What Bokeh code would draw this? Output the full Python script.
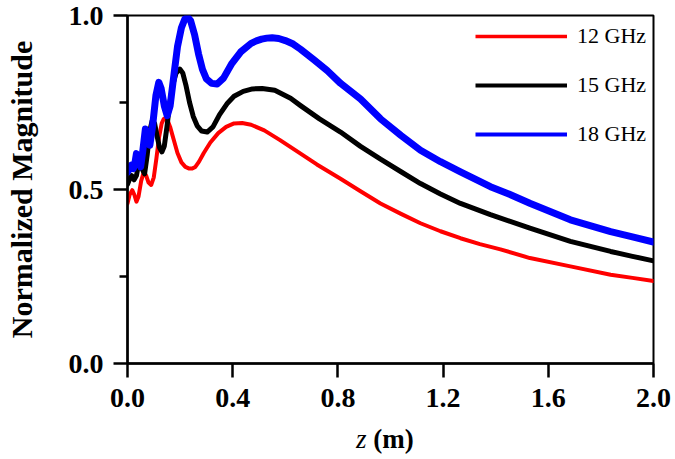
from bokeh.plotting import figure
from bokeh.models import (Range1d, FixedTicker, PrintfTickFormatter, Legend,
                          LegendItem, ColumnDataSource, Div)
from bokeh.layouts import column
from bokeh.embed import file_html
from bokeh.resources import INLINE

series_names = ["12 GHz", "15 GHz", "18 GHz"]

z_12 = [0.000, 0.008, 0.018, 0.026, 0.034, 0.042, 0.052, 0.062, 0.071, 0.080,
        0.090, 0.100, 0.110, 0.120, 0.130, 0.138, 0.145, 0.152, 0.162, 0.175,
        0.190, 0.205, 0.220, 0.235, 0.246, 0.258, 0.272, 0.290, 0.315, 0.345,
        0.375, 0.405, 0.436, 0.470, 0.520, 0.580, 0.658, 0.720, 0.810, 0.886,
        0.962, 1.040, 1.114, 1.190, 1.266, 1.340, 1.418, 1.530, 1.684, 1.837,
        1.920, 2.000]
mag_12 = [0.460, 0.485, 0.498, 0.485, 0.465, 0.480, 0.525, 0.550, 0.540, 0.520,
          0.513, 0.535, 0.590, 0.650, 0.690, 0.703, 0.705, 0.700, 0.680, 0.645,
          0.605, 0.578, 0.565, 0.560, 0.560, 0.565, 0.580, 0.605, 0.635, 0.662,
          0.680, 0.690, 0.691, 0.686, 0.670, 0.642, 0.603, 0.572, 0.531, 0.495,
          0.460, 0.430, 0.403, 0.380, 0.360, 0.343, 0.328, 0.303, 0.279, 0.255,
          0.246, 0.237]

z_15 = [0.000, 0.008, 0.016, 0.025, 0.034, 0.045, 0.055, 0.065, 0.075, 0.085,
        0.094, 0.103, 0.112, 0.122, 0.131, 0.140, 0.150, 0.160, 0.172, 0.185,
        0.199, 0.210, 0.222, 0.236, 0.250, 0.265, 0.282, 0.303, 0.325, 0.350,
        0.380, 0.405, 0.440, 0.475, 0.512, 0.560, 0.620, 0.658, 0.730, 0.810,
        0.886, 0.962, 1.040, 1.114, 1.190, 1.266, 1.380, 1.530, 1.684, 1.837,
        1.920, 2.000]
mag_15 = [0.515, 0.530, 0.540, 0.528, 0.540, 0.585, 0.560, 0.545, 0.600, 0.670,
          0.698, 0.690, 0.655, 0.620, 0.608, 0.625, 0.680, 0.745, 0.800, 0.835,
          0.846, 0.835, 0.800, 0.750, 0.710, 0.683, 0.668, 0.665, 0.680, 0.715,
          0.748, 0.768, 0.782, 0.789, 0.790, 0.785, 0.762, 0.741, 0.703, 0.665,
          0.624, 0.587, 0.551, 0.517, 0.487, 0.460, 0.428, 0.389, 0.351, 0.322,
          0.308, 0.295]

z_18 = [0.000, 0.008, 0.015, 0.022, 0.028, 0.034, 0.042, 0.050, 0.058, 0.068,
        0.076, 0.085, 0.095, 0.108, 0.119, 0.128, 0.140, 0.151, 0.162, 0.175,
        0.190, 0.205, 0.218, 0.229, 0.240, 0.255, 0.270, 0.285, 0.300, 0.320,
        0.341, 0.365, 0.395, 0.430, 0.470, 0.490, 0.510, 0.530, 0.550, 0.575,
        0.600, 0.630, 0.658, 0.710, 0.759, 0.810, 0.886, 0.962, 1.040, 1.114,
        1.190, 1.266, 1.380, 1.450, 1.532, 1.684, 1.837, 1.920, 2.000]
mag_18 = [0.550, 0.560, 0.570, 0.560, 0.575, 0.603, 0.590, 0.565, 0.610, 0.674,
          0.655, 0.627, 0.680, 0.770, 0.808, 0.790, 0.740, 0.712, 0.740, 0.820,
          0.910, 0.965, 0.990, 0.995, 0.985, 0.945, 0.890, 0.845, 0.818, 0.805,
          0.803, 0.820, 0.860, 0.895, 0.920, 0.927, 0.932, 0.935, 0.936, 0.934,
          0.928, 0.918, 0.903, 0.872, 0.842, 0.805, 0.760, 0.703, 0.655, 0.613,
          0.580, 0.551, 0.508, 0.487, 0.460, 0.413, 0.379, 0.364, 0.349]

x_ticks = [0.0, 0.4, 0.8, 1.2, 1.6, 2.0]
y_ticks = [0.0, 0.5, 1.0]
y_minor_ticks = [0.25, 0.75]

FONT = "Liberation Serif"

p = figure(width=673, height=426, output_backend="svg", toolbar_location=None,
           x_range=Range1d(0, 2.0), y_range=Range1d(0, 1.0),
           min_border_left=127, min_border_right=20, min_border_top=15,
           min_border_bottom=63)
p.background_fill_color = "white"
p.border_fill_color = "white"
p.outline_line_color = "black"
p.outline_line_width = 2
p.xgrid.visible = False
p.ygrid.visible = False

xa = p.xaxis[0]
xa.ticker = FixedTicker(ticks=x_ticks, minor_ticks=[])
xa.formatter = PrintfTickFormatter(format="%.1f")
ya = p.yaxis[0]
ya.ticker = FixedTicker(ticks=y_ticks, minor_ticks=y_minor_ticks)
ya.formatter = PrintfTickFormatter(format="%.1f")
for ax in (xa, ya):
    ax.axis_line_width = 2.5
    ax.axis_line_color = "black"
    ax.major_tick_line_width = 2.5
    ax.minor_tick_line_width = 2.5
    ax.major_tick_in = 0
    ax.major_tick_out = 14
    ax.minor_tick_in = 0
    ax.minor_tick_out = 8
    ax.major_label_text_font = FONT
    ax.major_label_text_font_style = "bold"
    ax.major_label_text_font_size = "28px"
    ax.major_label_text_color = "black"
xa.major_label_standoff = 11
ya.major_label_standoff = 10

ya.axis_label = "Normalized Magnitude"
ya.axis_label_text_font = FONT
ya.axis_label_text_font_style = "bold"
ya.axis_label_text_font_size = "30px"
ya.axis_label_text_color = "black"
ya.axis_label_standoff = 28

colors = ["#ff0000", "#000000", "#0000ff"]
widths = [4, 5, 7]
legend_widths = [3.5, 4, 4]
data = [(z_12, mag_12), (z_15, mag_15), (z_18, mag_18)]
for (zs, ms), c, w in zip(data, colors, widths):
    p.line(zs, ms, line_color=c, line_width=w, line_join="round", line_cap="round")

# legend samples (thinner than the curves), no visible data
nan = float("nan")
items = []
for name, c, w in zip(series_names, colors, legend_widths):
    src = ColumnDataSource(data=dict(x=[nan], y=[nan]))
    r = p.line("x", "y", source=src, line_color=c, line_width=w)
    items.append(LegendItem(label=name, renderers=[r]))

legend = Legend(items=items, location=(348, 216), orientation="vertical",
                glyph_width=92, glyph_height=10, label_height=24, spacing=23,
                label_standoff=10, padding=0, margin=0,
                border_line_color=None, background_fill_alpha=0,
                label_text_font=FONT, label_text_font_size="22px",
                label_text_color="black")
p.add_layout(legend)

xlabel = Div(
    text=('<div style="padding-left:356px; font-family:\'Liberation Serif\', serif; '
          'font-size:27px; line-height:27px; color:black; white-space:nowrap;">'
          '<i>z</i> <b>(m)</b></div>'),
    width=673, height=31, margin=(0, 0, 0, 0))

layout = column(p, xlabel, spacing=0)
open("out.html", "w").write(file_html(layout, INLINE))
